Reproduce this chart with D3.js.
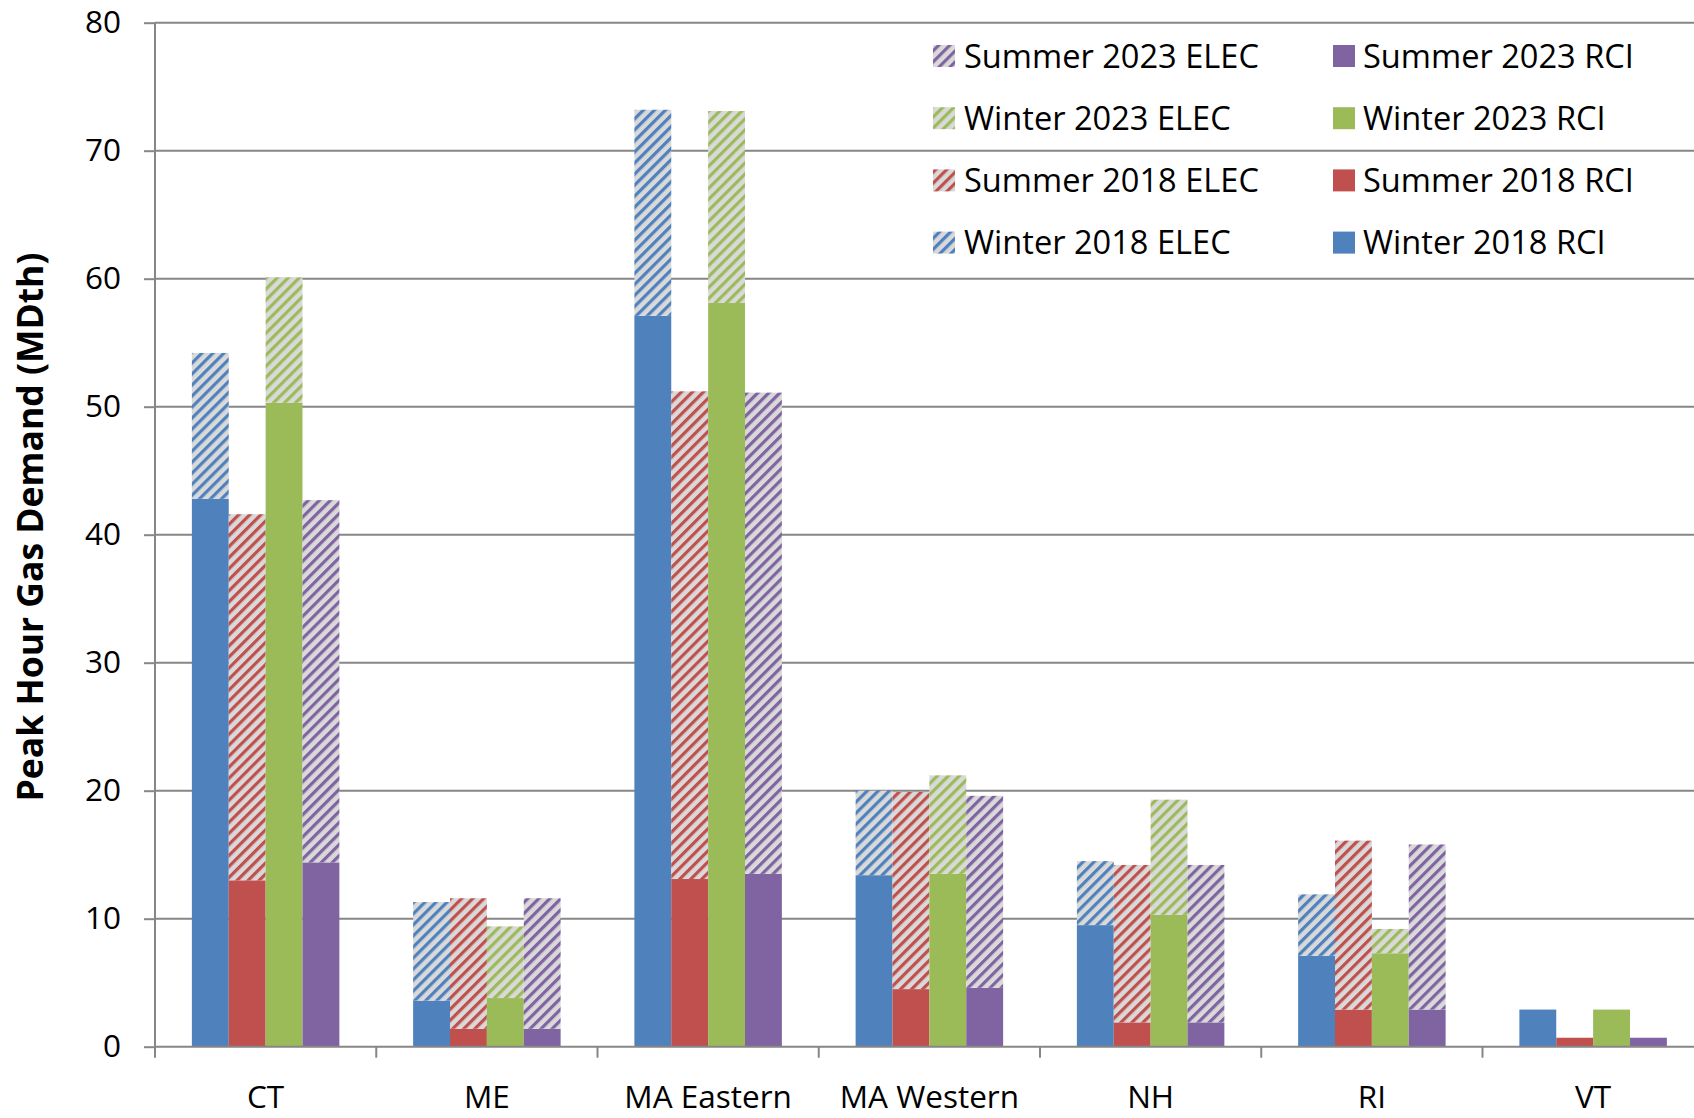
<!DOCTYPE html>
<html>
<head>
<meta charset="utf-8">
<script src="https://cdn.jsdelivr.net/npm/d3@7"></script>
<style>
  html, body { margin: 0; padding: 0; background: #fff; overflow: hidden; }
  svg { display: block; }
  text { font-family: "Open Sans", sans-serif; fill: #000; }
</style>
</head>
<body>
<script>
// chart values (MDth)
var regions = ['CT', 'ME', 'MA Eastern', 'MA Western', 'NH', 'RI', 'VT'];
var seriesNames = ['Winter 2018', 'Summer 2018', 'Winter 2023', 'Summer 2023'];
var seriesColors = ['#4f81bd', '#c0504d', '#9bbb59', '#8064a2'];

var winter2018RCI  = [42.8, 3.6, 57.1, 13.4, 9.5, 7.1, 2.9];
var winter2018ELEC = [11.4, 7.7, 16.1, 6.6, 5.0, 4.8, 0];
var summer2018RCI  = [13.0, 1.4, 13.1, 4.5, 1.9, 2.9, 0.7];
var summer2018ELEC = [28.6, 10.2, 38.1, 15.4, 12.3, 13.2, 0];
var winter2023RCI  = [50.3, 3.8, 58.1, 13.5, 10.3, 7.3, 2.9];
var winter2023ELEC = [9.8, 5.6, 15.0, 7.7, 9.0, 1.9, 0];
var summer2023RCI  = [14.4, 1.4, 13.5, 4.6, 1.9, 2.9, 0.7];
var summer2023ELEC = [28.3, 10.2, 37.6, 15.0, 12.3, 12.9, 0];

var yTicks = [0, 10, 20, 30, 40, 50, 60, 70, 80];

var rciValues = [winter2018RCI, summer2018RCI, winter2023RCI, summer2023RCI];
var elecValues = [winter2018ELEC, summer2018ELEC, winter2023ELEC, summer2023ELEC];

// legend rows, top to bottom
var legendRows = [3, 2, 1, 0];

var width = 1694, height = 1118;
var margin = { left: 155, top: 22.7 };
var plotW = 7 * 221.25;
var plotH = 1024;

var svg = d3.select('body').append('svg')
  .attr('width', width)
  .attr('height', height);

// hatch patterns for the ELEC parts
var defs = svg.append('defs');
seriesColors.forEach(function(c, i) {
  var p = defs.append('pattern')
    .attr('id', 'hatch' + i)
    .attr('patternUnits', 'userSpaceOnUse')
    .attr('width', 7.8)
    .attr('height', 7.8)
    .attr('patternTransform', 'rotate(45)');
  p.append('rect').attr('width', 7.8).attr('height', 7.8).attr('fill', '#d9d9d9');
  p.append('rect').attr('x', 0).attr('y', 0).attr('width', 3.2).attr('height', 7.8).attr('fill', c);
});

var x = d3.scaleBand().domain(regions).range([0, plotW]).paddingInner(0).paddingOuter(0);
var xs = d3.scaleBand().domain(d3.range(4)).range([0, x.bandwidth()]).paddingInner(0).paddingOuter(1);
var y = d3.scaleLinear().domain([0, 80]).range([plotH, 0]);

var g = svg.append('g').attr('transform', 'translate(' + margin.left + ',' + margin.top + ')');

// gridlines
g.selectAll('line.grid').data(yTicks.slice(1)).enter().append('line')
  .attr('class', 'grid')
  .attr('x1', 0).attr('x2', plotW)
  .attr('y1', function(d) { return y(d); })
  .attr('y2', function(d) { return y(d); })
  .attr('stroke', '#868686').attr('stroke-width', 2);

// bars
var bars = [];
regions.forEach(function(r, ri) {
  for (var s = 0; s < 4; s++) {
    var rci = rciValues[s][ri], elec = elecValues[s][ri];
    bars.push({ region: r, s: s, y0: 0, y1: rci, fill: seriesColors[s] });
    if (elec > 0) bars.push({ region: r, s: s, y0: rci, y1: rci + elec, fill: 'url(#hatch' + s + ')' });
  }
});

g.selectAll('rect.bar').data(bars).enter().append('rect')
  .attr('class', 'bar')
  .attr('x', function(d) { return x(d.region) + xs(d.s); })
  .attr('width', xs.bandwidth())
  .attr('y', function(d) { return y(d.y1); })
  .attr('height', function(d) { return y(d.y0) - y(d.y1); })
  .attr('fill', function(d) { return d.fill; });

// y axis
var yAxis = g.append('g').call(d3.axisLeft(y).tickValues(yTicks).tickSize(11).tickPadding(23));
yAxis.select('.domain').attr('stroke', '#868686').attr('stroke-width', 2).attr('d', 'M0,' + plotH + 'V0');
yAxis.selectAll('.tick line').attr('stroke', '#868686').attr('stroke-width', 2);
yAxis.selectAll('.tick text').attr('font-size', 31.5).attr('font-family', '"Open Sans", sans-serif').attr('fill', '#000');

// x axis line and ticks at category boundaries
g.append('line')
  .attr('x1', 0).attr('x2', plotW)
  .attr('y1', plotH).attr('y2', plotH)
  .attr('stroke', '#868686').attr('stroke-width', 2);
g.selectAll('line.xtick').data(d3.range(regions.length + 1)).enter().append('line')
  .attr('class', 'xtick')
  .attr('x1', function(i) { return i * x.step(); })
  .attr('x2', function(i) { return i * x.step(); })
  .attr('y1', plotH).attr('y2', plotH + 11)
  .attr('stroke', '#868686').attr('stroke-width', 2);
g.selectAll('text.xlab').data(regions).enter().append('text')
  .attr('class', 'xlab')
  .attr('x', function(d) { return x(d) + x.bandwidth() / 2; })
  .attr('y', plotH + 61)
  .attr('text-anchor', 'middle')
  .attr('font-size', 31.5)
  .text(function(d) { return d; });

// y title
svg.append('text')
  .attr('transform', 'translate(43,527) rotate(-90)')
  .attr('text-anchor', 'middle')
  .attr('font-size', 35.5)
  .attr('font-weight', 'bold')
  .text('Peak Hour Gas Demand (MDth)');

// legend
var legend = svg.append('g');
legendRows.forEach(function(s, row) {
  var cy = 56 + row * 62.2;
  var cols = [
    { mx: 933, tx: 964, fill: 'url(#hatch' + s + ')', label: seriesNames[s] + ' ELEC' },
    { mx: 1333, tx: 1363, fill: seriesColors[s], label: seriesNames[s] + ' RCI' }
  ];
  cols.forEach(function(c) {
    legend.append('rect')
      .attr('x', c.mx).attr('y', cy - 11)
      .attr('width', 22).attr('height', 22)
      .attr('fill', c.fill);
    legend.append('text')
      .attr('x', c.tx).attr('y', cy + 11.5)
      .attr('font-size', 32.6)
      .text(c.label);
  });
});
</script>
</body>
</html>
